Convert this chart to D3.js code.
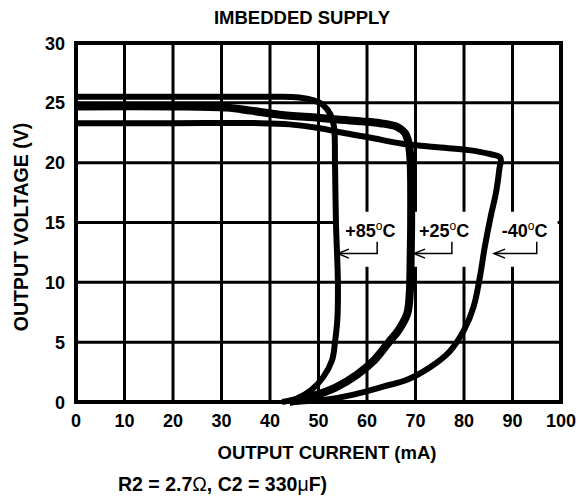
<!DOCTYPE html>
<html>
<head>
<meta charset="utf-8">
<script src="https://cdn.jsdelivr.net/npm/d3@7"></script>
<style>
  html, body { margin: 0; padding: 0; background: #fff; }
  svg text { font-family: Arial, "Liberation Sans", Helvetica, sans-serif; font-weight: bold; fill: #000; }
</style>
</head>
<body>
<svg id="chart" width="578" height="497"></svg>
<script>
// ---- data ----
const xTicks = [0, 10, 20, 30, 40, 50, 60, 70, 80, 90, 100];
const yTicks = [0, 5, 10, 15, 20, 25, 30];
const seriesNames = ["+85", "+25", "-40"];

// [output current (mA), output voltage (V)]
const curve85 = [[0,25.5],[20,25.5],[40,25.5],[46,25.45],[49,25.2],[51,24.8],[52.5,24.0],[53.2,23],[53.4,20],
  [53.6,15],[54,10],[53.9,7],[53.4,5],[52.8,3.5],[51,2.1],[48.5,1],[45.5,0.3],[42.5,0]];
const curve25 = [[0,24.7],[20,24.7],[31,24.6],[36,24.35],[42,24.0],[50,23.75],[54,23.6],[59,23.45],[62.7,23.3],
  [66.2,23.0],[67.8,22.5],[68.6,21.6],[69,20],[69.1,15],[69,12],[68.8,9],[68.3,7.4],[66.5,6],[64.5,5],
  [61.5,3.5],[58,2.3],[53.5,1.2],[48.5,0.45],[44,0]];
const curveM40 = [[0,23.3],[20,23.3],[38,23.3],[44,23.2],[50,22.9],[55,22.5],[60.6,22.1],[67,21.6],[74,21.3],
  [81,21.05],[85,20.75],[87.5,20.4],[87.3,19.5],[86.6,17.5],[85.5,15.5],[84.3,13],[83.3,10.5],[82,8],[80,6],
  [77,4.2],[73,2.9],[68.5,1.9],[63.5,1.3],[57,0.6],[51.5,0.2],[45,0]];

// ---- layout ----
const svg = d3.select("#chart");
const x = d3.scaleLinear().domain([0, 100]).range([76, 561]);
const y = d3.scaleLinear().domain([0, 30]).range([402, 43]);

// grid
svg.append("g").selectAll("line").data(xTicks.slice(1, -1)).join("line")
  .attr("x1", d => x(d)).attr("x2", d => x(d)).attr("y1", y(30)).attr("y2", y(0))
  .attr("stroke", "#000").attr("stroke-width", 3);
svg.append("g").selectAll("line").data(yTicks.slice(1, -1)).join("line")
  .attr("y1", d => y(d)).attr("y2", d => y(d)).attr("x1", x(0)).attr("x2", x(100))
  .attr("stroke", "#000").attr("stroke-width", 3);

// white label panel
svg.append("rect")
  .attr("x", x(53.8)).attr("y", y(15.9))
  .attr("width", x(99.3) - x(53.8)).attr("height", y(11.3) - y(15.9))
  .attr("fill", "#fff");

// frame
svg.append("rect").attr("x", x(0)).attr("y", y(30))
  .attr("width", x(100) - x(0)).attr("height", y(0) - y(30))
  .attr("fill", "none").attr("stroke", "#000").attr("stroke-width", 4);

// curves
const line = d3.line().x(d => x(d[0])).y(d => y(d[1])).curve(d3.curveCatmullRom.alpha(0.5));
[[curve85, 6], [curve25, 8], [curveM40, 6]].forEach(([data, w]) => {
  svg.append("path").datum(data).attr("d", line)
    .attr("fill", "none").attr("stroke", "#000").attr("stroke-width", w)
    .attr("stroke-linejoin", "round").attr("stroke-linecap", "butt");
});

// curve labels with arrows
const labelX = [55.5, 70.7, 87.8];
const arrowTail = [62.1, 77.5, 95];
const arrowTip = [54.0, 69.7, 86.2];
seriesNames.forEach((name, i) => {
  const t = svg.append("text").attr("x", x(labelX[i])).attr("y", y(13.8)).attr("font-size", 18);
  t.append("tspan").text(name);
  t.append("tspan").attr("font-size", 12).attr("font-weight", "normal").attr("dy", -7).text("o");
  t.append("tspan").attr("dy", 7).text("C");
  const ay = y(12.4);
  const g = svg.append("g").attr("stroke", "#000").attr("stroke-width", 1.5).attr("fill", "none");
  g.append("path").attr("d", `M${x(arrowTail[i])},${y(13.4)} V${ay} H${x(arrowTip[i])}`);
  g.append("path").attr("d", `M${x(arrowTip[i]) + 11},${ay - 4.5} L${x(arrowTip[i])},${ay} L${x(arrowTip[i]) + 11},${ay + 4.5}`);
});

// tick labels
svg.append("g").selectAll("text").data(yTicks).join("text")
  .attr("x", 65).attr("y", d => y(d) + 6.5).attr("text-anchor", "end").attr("font-size", 18)
  .text(d => d);
svg.append("g").selectAll("text").data(xTicks).join("text")
  .attr("x", d => x(d)).attr("y", 427).attr("text-anchor", "middle").attr("font-size", 18)
  .text(d => d);

// titles
svg.append("text").attr("x", 302).attr("y", 24).attr("text-anchor", "middle").attr("font-size", 18.5)
  .text("IMBEDDED SUPPLY");
svg.append("text").attr("x", 327).attr("y", 459).attr("text-anchor", "middle").attr("font-size", 18.5)
  .text("OUTPUT CURRENT (mA)");
svg.append("text").attr("transform", "translate(28,227) rotate(-90)").attr("text-anchor", "middle")
  .attr("font-size", 19.5).text("OUTPUT VOLTAGE (V)");
const cap = svg.append("text").attr("x", 118).attr("y", 491).attr("font-size", 19.5);
cap.append("tspan").text("R2 = 2.7");
cap.append("tspan").attr("font-weight", "normal").text("Ω");
cap.append("tspan").text(", C2 = 330");
cap.append("tspan").attr("font-weight", "normal").text("μ");
cap.append("tspan").text("F)");
</script>
</body>
</html>
